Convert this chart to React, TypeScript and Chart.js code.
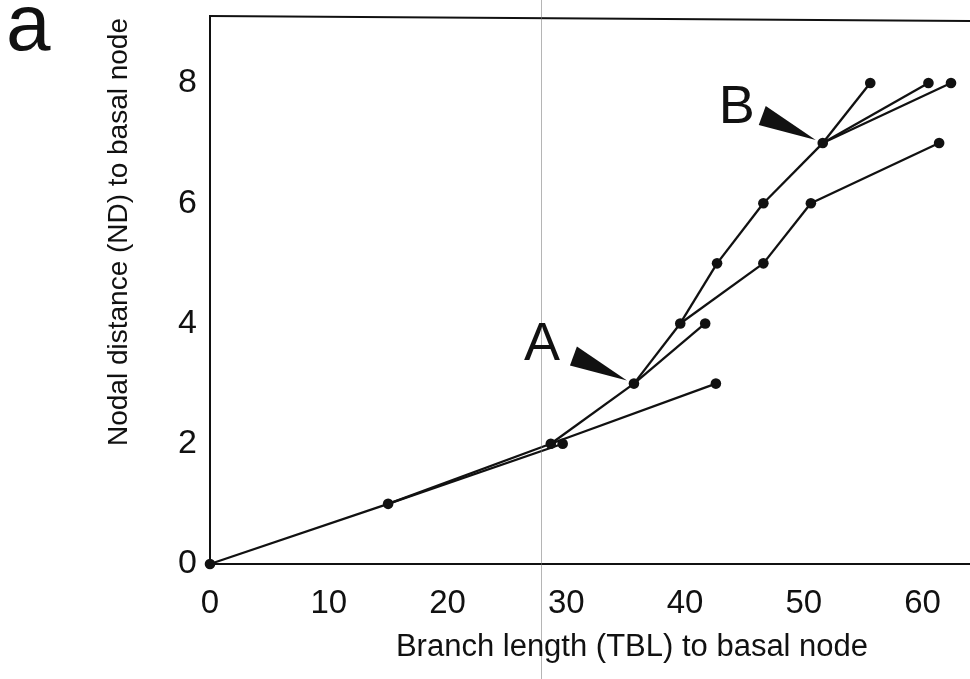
import React, { useEffect, useRef } from "react";
import { Chart, registerables } from "chart.js";

Chart.register(...registerables);

// ---- data ----
const nodeX = [0, 15.0, 28.7, 29.7, 35.7, 42.6, 39.6, 41.7, 42.7, 46.6, 46.6, 50.6, 51.6, 61.4, 55.6, 60.5, 62.4];
const nodeY = [0, 1, 2, 2, 3, 3, 4, 4, 5, 5, 6, 6, 7, 7, 8, 8, 8];
const parentIndex = [-1, 0, 1, 1, 2, 2, 4, 4, 6, 6, 8, 9, 10, 11, 12, 12, 12];
const xTicks = [0, 10, 20, 30, 40, 50, 60];
const yTicks = [0, 2, 4, 6, 8];
const markerLabels = ["A", "B"];
const markerNodes = [4, 12];
const xTitle = "Branch length (TBL) to basal node";
const yTitle = "Nodal distance (ND) to basal node";
const panelLabel = "a";

const FONT = "'Liberation Sans', Arial, sans-serif";
const INK = "#111";

const decorPlugin = {
  id: "decor",
  beforeDraw(chart: any) {
    const { ctx, width, height } = chart;
    ctx.save();
    ctx.fillStyle = "#fff";
    ctx.fillRect(0, 0, width, height);
    ctx.restore();
  },
  afterDraw(chart: any) {
    const { ctx, chartArea, scales } = chart;
    const xs = scales.x;
    const ys = scales.y;
    ctx.save();
    // top frame line
    ctx.strokeStyle = INK;
    ctx.lineWidth = 2;
    ctx.beginPath();
    ctx.moveTo(chartArea.left - 1, chartArea.top - 2);
    ctx.lineTo(chartArea.right, chartArea.top + 3);
    ctx.stroke();

    // faint scan line
    ctx.strokeStyle = "rgba(120,120,120,0.55)";
    ctx.lineWidth = 1;
    ctx.beginPath();
    ctx.moveTo(541.5, 0);
    ctx.lineTo(541.5, chart.height);
    ctx.stroke();

    // markers A / B with arrowheads
    ctx.fillStyle = INK;
    ctx.font = `54px ${FONT}`;
    ctx.textAlign = "center";
    ctx.textBaseline = "middle";
    markerLabels.forEach((lab, i) => {
      const n = markerNodes[i];
      const px = xs.getPixelForValue(nodeX[n]);
      const py = ys.getPixelForValue(nodeY[n]);
      const lx = px - (i === 0 ? 92 : 86);
      const ly = py - (i === 0 ? 38 : 35);
      ctx.fillText(lab, lx, ly);
      // arrowhead triangle pointing at node
      ctx.beginPath();
      ctx.moveTo(px - 57, py - 37);
      ctx.lineTo(px - 64, py - 18);
      ctx.lineTo(px - 7, py - 3);
      ctx.closePath();
      ctx.fill();
    });

    // axis titles
    ctx.font = `31px ${FONT}`;
    ctx.textAlign = "center";
    ctx.textBaseline = "middle";
    ctx.fillText(xTitle, 632, 647);
    ctx.save();
    ctx.translate(119, 232);
    ctx.rotate(-Math.PI / 2);
    ctx.font = `28px ${FONT}`;
    ctx.fillText(yTitle, 0, 0);
    ctx.restore();

    // panel label
    ctx.font = `80px ${FONT}`;
    ctx.textAlign = "left";
    ctx.textBaseline = "alphabetic";
    ctx.fillText(panelLabel, 6, 50);
    ctx.restore();
  },
};

export default function App() {
  const ref = useRef<HTMLCanvasElement | null>(null);

  useEffect(() => {
    if (!ref.current) return;
    const nodes = nodeX.map((x, i) => ({ x, y: nodeY[i] }));
    const edgeSets: any[] = [];
    parentIndex.forEach((p, i) => {
      if (p < 0) return;
      edgeSets.push({
        label: `edge${i}`,
        data: [
          { x: nodeX[p], y: nodeY[p] },
          { x: nodeX[i], y: nodeY[i] },
        ],
        showLine: true,
        borderColor: INK,
        borderWidth: 2.3,
        pointRadius: 0,
        clip: false,
      });
    });

    const chart = new Chart(ref.current, {
      type: "scatter",
      data: {
        datasets: [
          {
            label: "nodes",
            data: nodes,
            showLine: false,
            pointRadius: 5.3,
            pointBackgroundColor: INK,
            pointBorderColor: INK,
            pointBorderWidth: 0,
            clip: false,
          },
          ...edgeSets,
        ],
      },
      options: {
        animation: false,
        responsive: false,
        devicePixelRatio: 1,
        layout: { autoPadding: false, padding: { top: 18, right: 0, left: 0, bottom: 0 } },
        plugins: {
          legend: { display: false },
          tooltip: { enabled: false },
        },
        scales: {
          x: {
            type: "linear",
            min: 0,
            max: 64,
            afterBuildTicks: (s: any) => {
              s.ticks = xTicks.map((v) => ({ value: v }));
            },
            afterFit: (s: any) => {
              s.height = 115;
              s.paddingLeft = 0;
              s.paddingRight = 0;
            },
            grid: { display: false, drawTicks: false },
            border: { display: true, color: INK, width: 2 },
            ticks: {
              font: { family: FONT, size: 33 },
              color: INK,
              padding: 20,
              maxRotation: 0,
              autoSkip: false,
            },
          },
          y: {
            type: "linear",
            min: 0,
            max: 9.08,
            afterBuildTicks: (s: any) => {
              s.ticks = yTicks.map((v) => ({ value: v }));
            },
            afterFit: (s: any) => {
              s.width = 210;
              s.paddingTop = 0;
              s.paddingBottom = 0;
            },
            grid: { display: false, drawTicks: false },
            border: { display: true, color: INK, width: 2 },
            ticks: {
              font: { family: FONT, size: 34 },
              color: INK,
              padding: 13,
              autoSkip: false,
            },
          },
        },
      },
      plugins: [decorPlugin],
    });
    return () => chart.destroy();
  }, []);

  return (
    <div style={{ position: "absolute", left: 0, top: 0, width: 970, height: 679, background: "#fff" }}>
      <canvas ref={ref} width={970} height={679} style={{ display: "block", width: 970, height: 679 }} />
    </div>
  );
}
